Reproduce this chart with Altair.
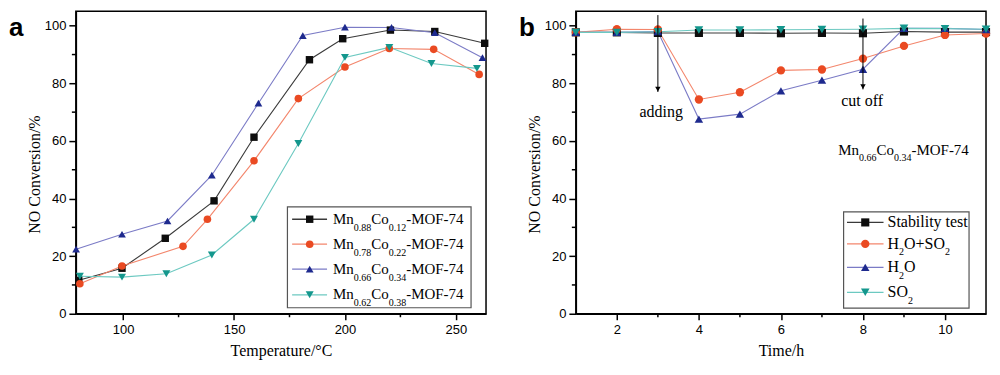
import altair as alt
import pandas as pd

# ---------------- panel a data ----------------
a_names = ["Mn0.88Co0.12-MOF-74", "Mn0.78Co0.22-MOF-74",
           "Mn0.66Co0.34-MOF-74", "Mn0.62Co0.38-MOF-74"]
a_mn_sub = ["0.88", "0.78", "0.66", "0.62"]
a_co_sub = ["0.12", "0.22", "0.34", "0.38"]

t_088 = [80, 99.5, 119, 141, 159, 184, 199, 220.5, 240.5, 263]
v_088 = [11.6, 15.8, 26.2, 39.2, 61.3, 88.2, 95.5, 98.5, 98.0, 93.9]
t_078 = [80.5, 99.5, 127, 138, 159, 179, 200, 220, 240, 260.5]
v_078 = [10.4, 16.6, 23.4, 32.8, 53.1, 74.7, 85.7, 92.1, 91.8, 83.1]
t_066 = [78.8, 99.5, 120, 140, 161, 181, 200, 221, 240.5, 262]
v_066 = [22.4, 27.6, 32.2, 48.1, 73.1, 96.6, 99.5, 99.4, 97.6, 88.9]
t_062 = [80.5, 99.5, 119.5, 140, 159, 179, 200, 220, 239, 259.5]
v_062 = [13.0, 12.7, 13.9, 20.4, 32.8, 59.1, 89.0, 92.5, 86.9, 85.2]

a_major_x = [100, 150, 200, 250]
a_minor_x = [125, 175, 225]

# ---------------- panel b data ----------------
b_names = ["Stability test", "H2O+SO2", "H2O", "SO2"]
hours = [1, 2, 3, 4, 5, 6, 7, 8, 9, 10, 11]
stability = [97.7, 97.7, 97.5, 97.5, 97.5, 97.4, 97.5, 97.4, 98.0, 97.8, 97.8]
h2o_so2 = [97.7, 98.8, 98.7, 74.4, 76.9, 84.5, 84.8, 88.6, 93.0, 96.8, 97.3]
h2o = [97.7, 97.7, 98.0, 67.6, 69.3, 77.4, 81.1, 84.9, 99.1, 99.1, 98.7]
so2 = [97.7, 97.7, 97.9, 98.5, 98.5, 98.6, 98.7, 98.8, 99.1, 99.0, 98.8]

b_major_x = [2, 4, 6, 8, 10]
b_minor_x = [3, 5, 7, 9]

y_major = [0, 20, 40, 60, 80, 100]
y_minor = [10, 30, 50, 70, 90]

arrow_x = [3, 8]
arrow_top = [103.7, 102.5]
arrow_tip = [77.0, 77.9]
note_text = ["adding", "cut off"]
note_x = [3.08, 7.98]
note_y = [68.2, 72.1]

# ---------------- styles ----------------
line_colors = ["#3a3a3a", "#f3866c", "#7b7bc6", "#6cc9c1"]
marker_colors = ["#0d0d0d", "#ea4a22", "#1e2a8e", "#14978d"]
shapes = ["square", "circle", "triangle-up", "triangle-down"]
sizes = [55, 75, 95, 95]

W_PLOT, H_PLOT = 411, 303
SERIF = "Liberation Serif"
SANS = "Liberation Sans"

# Times-compatible advance widths (em)
CW = {"M": .889, "n": .5, "C": .667, "o": .5, "-": .333, "O": .722, "F": .556,
      ".": .25, "S": .556, "t": .278, "a": .444, "b": .5, "i": .278, "l": .278,
      "y": .5, " ": .25, "e": .444, "s": .389, "H": .722, "+": .564}


def tw(s, fs):
    return sum(CW.get(c, 0.5) for c in s) * fs


def rich(pieces, x0, yb, fs=15, sfs=10, sdy=6.5):
    out = []
    x = x0
    for txt, sub in pieces:
        out.append(dict(tx=x, ty=yb + (sdy if sub else 0), txt=txt, is_sub=sub, fs=sfs if sub else fs))
        x += tw(txt, sfs if sub else fs)
    return out


def long_df(names, xs, ys):
    rows = []
    for n, xv, yv in zip(names, xs, ys):
        for a, b in zip(xv, yv):
            rows.append(dict(series=n, x=a, y=b))
    return pd.DataFrame(rows)


def enc_style(names):
    return dict(
        shape=alt.Shape("series:N", scale=alt.Scale(domain=names, range=shapes), legend=None),
        fill=alt.Fill("series:N", scale=alt.Scale(domain=names, range=marker_colors), legend=None),
        size=alt.Size("series:N", scale=alt.Scale(domain=names, range=sizes), legend=None),
    )


def line_color(names):
    return alt.Color("series:N", scale=alt.Scale(domain=names, range=line_colors), legend=None)


def panel(df, names, xdom, xmajor, xminor, xtitle, legend_rows, box, sym_x, line_x,
          extra_text, label, label_x):
    xs = alt.Scale(domain=xdom, nice=False, zero=False)
    ys = alt.Scale(domain=[0, 105], nice=False)
    xaxis = alt.Axis(values=xmajor, tickSize=6, labelPadding=4, title=xtitle, titlePadding=6)
    yaxis = alt.Axis(values=y_major, tickSize=7, labelPadding=3, title="NO Conversion/%",
                     titlePadding=2, titleY=163)

    def X(f):
        return alt.X(f, scale=xs, axis=xaxis)

    def Y(f):
        return alt.Y(f, scale=ys, axis=yaxis)

    lines = alt.Chart(df).mark_line(strokeWidth=1.1).encode(x=X("x:Q"), y=Y("y:Q"), color=line_color(names))
    pts = alt.Chart(df).mark_point(filled=True, opacity=1).encode(x=X("x:Q"), y=Y("y:Q"), **enc_style(names))

    # minor ticks (through the scales)
    mx = alt.Chart(pd.DataFrame({"mx": xminor})).mark_rule(color="black", strokeWidth=1.5).encode(
        x=X("mx:Q"), y=alt.value(H_PLOT), y2=alt.value(H_PLOT + 3.5))
    my = alt.Chart(pd.DataFrame({"my": y_minor})).mark_rule(color="black", strokeWidth=1.5).encode(
        y=Y("my:Q"), x=alt.value(0), x2=alt.value(-4))

    # manual legend
    leg = pd.DataFrame(dict(series=names, sy=[r for r in legend_rows]))
    boxc = alt.Chart(pd.DataFrame({"k": [0]})).mark_rect(fill="white", stroke="#555", strokeWidth=1.2).encode(
        x=alt.value(box[0]), x2=alt.value(box[1]), y=alt.value(box[2]), y2=alt.value(box[3]))
    leg["lx1"] = line_x[0]
    leg["lx2"] = line_x[1]
    leg["sx"] = sym_x
    leg_lines = alt.Chart(leg).mark_rule(strokeWidth=1.3).encode(
        x=alt.X("lx1:Q", scale=None), x2="lx2:Q", y=alt.Y("sy:Q", scale=None), color=line_color(names))
    leg_syms = alt.Chart(leg).mark_point(filled=True, opacity=1).encode(
        x=alt.X("sx:Q", scale=None), y=alt.Y("sy:Q", scale=None), **enc_style(names))

    tdf = pd.DataFrame(extra_text)
    text_layers = []
    for fsz in sorted(tdf["fs"].unique()):
        part = tdf[tdf["fs"] == fsz][["tx", "ty", "txt"]]
        text_layers.append(alt.Chart(part).mark_text(font=SERIF, fontSize=float(fsz), align="left",
                                                     baseline="alphabetic", color="black").encode(
            x=alt.X("tx:Q", scale=None), y=alt.Y("ty:Q", scale=None), text="txt:N"))
    lab = alt.Chart(pd.DataFrame({"t": [label]})).mark_text(
        font=SANS, fontSize=26, fontWeight="bold", align="left", baseline="alphabetic", color="black").encode(
        x=alt.value(label_x), y=alt.value(25), text="t:N")
    return [lines, pts, mx, my, boxc, leg_lines, leg_syms] + text_layers + [lab], X, Y


# ---------------- panel a ----------------
df_a = long_df(a_names, [t_088, t_078, t_066, t_062], [v_088, v_078, v_066, v_062])
rows_a = [208.3, 233.3, 258.3, 284.0]
texts_a = []
for r, ms, cs in zip(rows_a, a_mn_sub, a_co_sub):
    texts_a += rich([("Mn", False), (ms, True), ("Co", False), (cs, True), ("-MOF-74", False)],
                    257.7, r + 4.5, sdy=7)
layers_a, XA, YA = panel(df_a, a_names, [78.7, 263.6], a_major_x, a_minor_x, "Temperature/°C",
                         rows_a, [212, 396, 196, 297], 234.3, [216.7, 251.7], texts_a, "a", -67)
left = alt.layer(*layers_a).properties(width=W_PLOT, height=H_PLOT)

# ---------------- panel b ----------------
df_b = long_df(b_names, [hours] * 4, [stability, h2o_so2, h2o, so2])
rows_b = [211.5, 233.0, 256.5, 281.5]
texts_b = []
texts_b += rich([("Stability test", False)], 312.3, rows_b[0] + 5, fs=16)
texts_b += rich([("H", False), ("2", True), ("O+SO", False), ("2", True)], 312.3, rows_b[1] + 5, fs=16)
texts_b += rich([("H", False), ("2", True), ("O", False)], 312.3, rows_b[2] + 5, fs=16)
texts_b += rich([("SO", False), ("2", True)], 312.3, rows_b[3] + 5, fs=16)
texts_b += rich([("Mn", False), ("0.66", True), ("Co", False), ("0.34", True), ("-MOF-74", False)],
                263, 144, sdy=6)
layers_b, XB, YB = panel(df_b, b_names, [1, 11], b_major_x, b_minor_x, "Time/h",
                         rows_b, [268.3, 394, 201, 297.3], 290, [271.7, 308.3], texts_b, "b", -57)

arr = pd.DataFrame(dict(ax=arrow_x, ytop=arrow_top, ytip=arrow_tip))
arr["yhead"] = arr["ytip"] + 1.0
arrow_lines = alt.Chart(arr).mark_rule(color="black", strokeWidth=1).encode(
    x=XB("ax:Q"), y=YB("ytop:Q"), y2="ytip:Q")
arrow_heads = alt.Chart(arr).mark_point(shape="triangle-down", filled=True, size=30, color="black",
                                        opacity=1).encode(x=XB("ax:Q"), y=YB("yhead:Q"))
notes = pd.DataFrame(dict(nx=note_x, ny=note_y, nt=note_text))
note_marks = alt.Chart(notes).mark_text(font=SERIF, fontSize=16, align="center", baseline="alphabetic",
                                        color="black").encode(x=XB("nx:Q"), y=YB("ny:Q"), text="nt:N")
right = alt.layer(*layers_b, arrow_lines, arrow_heads, note_marks).properties(width=W_PLOT, height=H_PLOT)

chart = alt.hconcat(left, right, spacing=28).properties(
    padding={"left": 0, "top": 2, "right": 0, "bottom": 0}
).configure_view(stroke="black", strokeWidth=1.5).configure_axis(
    domainColor="black", domainWidth=1.5, tickColor="black", tickWidth=1.5,
    labelFont=SANS, labelFontSize=13, labelColor="black",
    titleFont=SERIF, titleFontSize=16, titleFontWeight="normal", titleColor="black", grid=False)

chart.save("out.html", embed_options={"renderer": "svg", "actions": False})
